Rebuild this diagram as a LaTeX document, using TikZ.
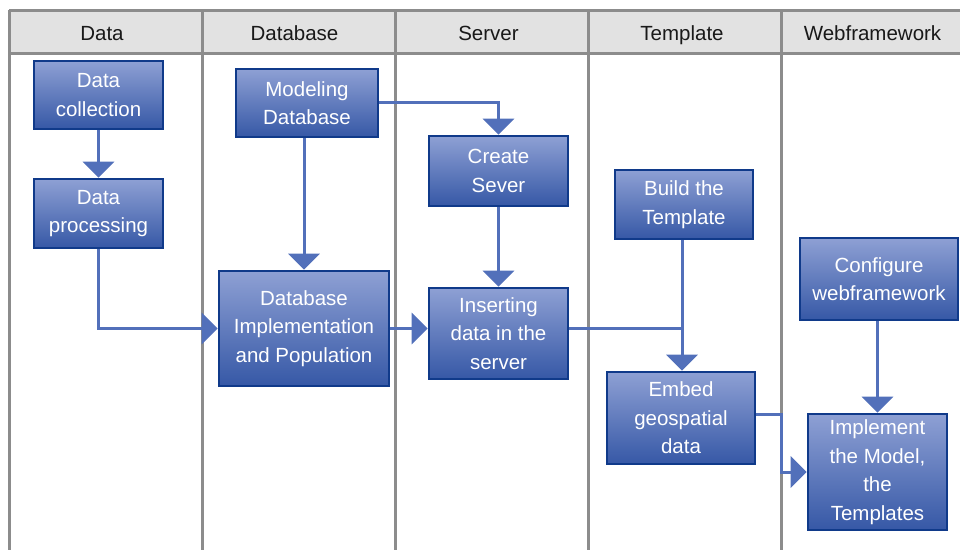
\documentclass[tikz,border=0pt]{standalone}
\usepackage{fontspec}
\setmainfont{Liberation Sans}
\usetikzlibrary{arrows.meta}
\definecolor{gridgray}{RGB}{140,140,140}
\definecolor{headfill}{RGB}{226,226,226}
\definecolor{boxedge}{RGB}{16,58,138}
\definecolor{boxtop}{RGB}{142,160,212}
\definecolor{boxbot}{RGB}{54,88,166}
\definecolor{flow}{RGB}{82,112,186}
\begin{document}
\begin{tikzpicture}[x=1pt,y=-1pt,
  lane/.style={draw=gridgray,line width=3pt},
  lanehead/.style={font=\fontsize{20.5}{24}\selectfont,text=black!90,inner sep=0pt,anchor=base},
  stepbox/.style={draw=boxedge,line width=2.6pt,top color=boxtop,bottom color=boxbot,
    text=white,align=center,inner sep=0pt,font=\fontsize{20.5}{28.5}\selectfont},
  flowline/.style={draw=flow,line width=3pt},
  flowarrow/.style={flowline,-{Triangle[width=31pt,length=16pt]}},
]
\useasboundingbox (0,0) rectangle (960,549);

% swimlane frame and header row
\fill[headfill] (9,10) rectangle (965,53);
\draw[lane] (9,10) -- (965,10);
\draw[lane] (9,53) -- (965,53);
\foreach \lx in {9,202,395,588,781}
  \draw[lane] (\lx,10) -- (\lx,552);

\node[lanehead] (hData)   at (102,40.5)   {Data};
\node[lanehead] (hDb)     at (294.5,40.5) {Database};
\node[lanehead] (hServer) at (488.5,40.5) {Server};
\node[lanehead] (hTempl)  at (682,40.5)   {Template};
\node[lanehead] (hWeb)    at (872.5,40.5) {Webframework};

% process steps
\node[stepbox,minimum width=129pt,minimum height=68pt] (dc)  at (98.5,95)    {Data\\collection};
\node[stepbox,minimum width=129pt,minimum height=69pt] (dp)  at (98.5,213.5) {Data\\processing};
\node[stepbox,minimum width=142pt,minimum height=68pt] (md)  at (307,103)    {Modeling\\Database};
\node[stepbox,minimum width=139pt,minimum height=70pt] (cs)  at (498.5,171)  {Create\\Sever};
\node[stepbox,minimum width=170pt,minimum height=115pt] (dbi) at (304,328.5) {Database\\Implementation\\and Population};
\node[stepbox,minimum width=139pt,minimum height=91pt] (ins) at (498.5,333.5) {Inserting\\data in the\\server};
\node[stepbox,minimum width=138pt,minimum height=69pt] (bt)  at (684,204.5)  {Build the\\Template};
\node[stepbox,minimum width=148pt,minimum height=92pt] (emb) at (681,418)    {Embed\\geospatial\\data};
\node[stepbox,minimum width=158pt,minimum height=82pt] (cw)  at (879,279)    {Configure\\webframework};
\node[stepbox,minimum width=139pt,minimum height=116pt] (imp) at (877.5,472)  {Implement\\the Model,\\the\\Templates};

% connectors
\coordinate (embout) at ([yshift=4pt]emb.east);
\coordinate (bend) at (781,414);

\draw[flowarrow] (dc) -- (dp);
\draw[flowarrow] (dp.south) |- (dbi.west);
\draw[flowarrow] (dbi.north |- md.south) -- (dbi.north);
\draw[flowarrow] (md.east |- 0,102) -| (cs.north);
\draw[flowarrow] (cs) -- (ins);
\draw[flowarrow] (dbi.east) -- (dbi.east -| ins.west);
\draw[flowline] (dbi.east -| ins.east) -- (dbi.east -| 682,0);
\draw[flowarrow] (682,0 |- bt.south) -- (682,0 |- emb.north);
\draw[flowarrow] (embout) -- (bend) |- (imp.west);
\draw[flowarrow] (cw.south -| imp.north) -- (imp.north);
\end{tikzpicture}
\end{document}
